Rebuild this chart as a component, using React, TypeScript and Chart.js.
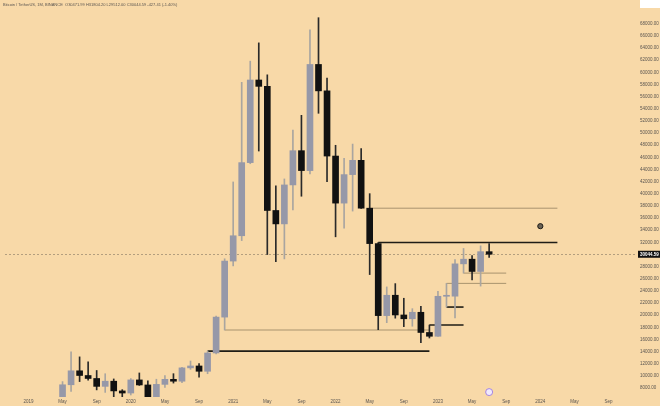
import React, { useEffect, useRef } from 'react';
import { Chart, registerables } from 'chart.js';

Chart.register(...registerables);

// ---- Data (BTC/USDT monthly candles) ----
const months = [
  '2019-05', '2019-06', '2019-07', '2019-08', '2019-09', '2019-10', '2019-11', '2019-12',
  '2020-01', '2020-02', '2020-03', '2020-04', '2020-05', '2020-06', '2020-07', '2020-08',
  '2020-09', '2020-10', '2020-11', '2020-12',
  '2021-01', '2021-02', '2021-03', '2021-04', '2021-05', '2021-06', '2021-07', '2021-08',
  '2021-09', '2021-10', '2021-11', '2021-12',
  '2022-01', '2022-02', '2022-03', '2022-04', '2022-05', '2022-06', '2022-07', '2022-08',
  '2022-09', '2022-10', '2022-11', '2022-12',
  '2023-01', '2023-02', '2023-03', '2023-04', '2023-05', '2023-06', '2023-07',
];
const opens = [
  5320.81, 8555.0, 10854.1, 10080.53, 9588.74, 8289.97, 9140.86, 7540.63,
  7195.24, 9351.71, 8523.61, 6412.14, 8620.0, 9448.27, 9138.08, 11335.46,
  11649.51, 10776.59, 13791.0, 19695.87,
  28923.63, 33092.97, 45134.11, 58739.46, 57697.25, 37253.82, 35045.0, 41461.84,
  47100.89, 43820.01, 61299.81, 56950.56,
  46216.93, 38466.9, 43160.0, 45510.35, 37631.83, 31801.05, 19942.21, 23296.36,
  20048.44, 19422.61, 20490.74, 17165.53,
  16541.77, 23125.13, 23141.57, 28465.36, 29233.2, 27210.36, 30471.99,
];
const highs = [
  9074.26, 13970.0, 13147.08, 12325.0, 10905.87, 10370.0, 9513.68, 7750.0,
  9578.0, 10500.0, 9188.0, 9467.35, 10067.0, 10380.0, 11444.0, 12468.0,
  12050.85, 14100.0, 19863.16, 29300.0,
  41950.0, 58352.8, 61844.0, 64854.0, 59592.2, 41330.0, 42448.0, 50500.0,
  52920.0, 67000.0, 69000.0, 59053.55,
  47990.0, 45821.0, 48189.84, 47444.11, 40023.77, 31982.97, 24668.0, 25211.32,
  22799.0, 21085.0, 21480.65, 18387.95,
  23960.54, 25250.0, 29184.68, 31000.0, 29820.0, 31431.94, 31804.2,
];
const lows = [
  5316.2, 7444.58, 9080.0, 9320.0, 7710.0, 7300.0, 6515.0, 6435.0,
  6871.04, 8445.0, 3782.13, 6150.11, 8117.0, 8833.0, 8893.03, 11091.0,
  9825.0, 10374.0, 13621.69, 17572.33,
  28130.0, 32296.16, 44950.53, 47044.01, 30000.0, 28805.0, 29278.0, 37332.7,
  39600.0, 43283.03, 53256.64, 42000.3,
  32917.17, 34322.28, 37155.0, 37578.2, 26700.0, 17622.0, 18781.0, 19520.0,
  18125.98, 18190.0, 15476.0, 16256.3,
  16499.01, 21351.07, 19549.09, 26942.82, 25811.46, 24800.0, 29512.0,
];
const closes = [
  8555.0, 10854.1, 10080.53, 9588.74, 8289.34, 9140.85, 7541.89, 7195.23,
  9352.89, 8523.61, 6410.44, 8620.0, 9448.27, 9138.55, 11335.46, 11649.51,
  10776.59, 13791.0, 19695.87, 28923.63,
  33092.98, 45135.66, 58740.55, 57694.27, 37253.81, 35045.0, 41461.83, 47100.89,
  43824.1, 61299.8, 56950.56, 46216.93,
  38466.9, 43160.0, 45510.34, 37630.8, 31801.04, 19942.21, 23293.32, 20050.02,
  19422.61, 20490.74, 17163.64, 16542.4,
  23125.13, 23141.57, 28465.36, 29233.21, 27210.35, 30472.0, 30044.59,
];

// ---- Axis ticks ----
const xTickMonths = [
  '2019-01', '2019-05', '2019-09', '2020-01', '2020-05', '2020-09',
  '2021-01', '2021-05', '2021-09', '2022-01', '2022-05', '2022-09',
  '2023-01', '2023-05', '2023-09', '2024-01', '2024-05', '2024-09',
];
const xTickLabels = [
  '2019', 'May', 'Sep', '2020', 'May', 'Sep',
  '2021', 'May', 'Sep', '2022', 'May', 'Sep',
  '2023', 'May', 'Sep', '2024', 'May', 'Sep',
];
const yTickValues = [
  8000, 10000, 12000, 14000, 16000, 18000, 20000, 22000, 24000, 26000, 28000,
  30000, 32000, 34000, 36000, 38000, 40000, 42000, 44000, 46000, 48000, 50000,
  52000, 54000, 56000, 58000, 60000, 62000, 64000, 66000, 68000,
];

// ---- Drawn horizontal levels ----
const keyLevelFrom = ['2020-10', '2022-06', '2022-12', '2023-02'];
const keyLevelTo = ['2022-12', '2024-03', '2023-04', '2023-04'];
const keyLevelPrice = [14100.0, 31982.97, 18387.95, 21351.07];

const minorLevelFrom = ['2020-12', '2022-05', '2023-02', '2023-04'];
const minorLevelTo = ['2022-12', '2024-03', '2023-09', '2023-09'];
const minorLevelPrice = [17572.33, 37630.8, 25250.0, 26942.82];

const noteMonths = ['2024-01'];
const notePrices = [34670];
const eventMonths = ['2023-07'];
const eventPrices = [7350];

const headerText =
  'Bitcoin / TetherUS, 1M, BINANCE  O30471.99 H31804.20 L29512.00 C30044.59 -427.41 (-1.40%)';

// visible ranges
const yMin = 6540;
const yMax = 71090;
const xMin = -2.744;
const xMax = 71.33;

// ---- styles ----
const BG = '#f8d9a8';
const UP = '#9698a8';
const DOWN = '#111111';
const UP_WICK = '#a9a5a0';
const DOWN_WICK = '#2a2a2a';
const TEXT = '#5a5550';
const FONT = '"Liberation Sans", Arial, sans-serif';

const monthIndex = (s: string) => {
  const [y, m] = s.split('-').map(Number);
  return (y - 2019) * 12 + (m - 1);
};

const decorPlugin = {
  id: 'decor',
  beforeDatasetsDraw(chart: any) {
    const { ctx, chartArea, scales } = chart;
    const last = closes[closes.length - 1];
    const y = Math.round(scales.y.getPixelForValue(last)) + 0.5;
    ctx.save();
    ctx.strokeStyle = '#b39e7e';
    ctx.lineWidth = 1;
    ctx.setLineDash([2, 2]);
    ctx.beginPath();
    ctx.moveTo(chartArea.left, y);
    ctx.lineTo(chartArea.right, y);
    ctx.stroke();
    ctx.restore();
  },
  afterDraw(chart: any) {
    const { ctx, chartArea, scales } = chart;
    ctx.save();
    // header
    ctx.font = `4px ${FONT}`;
    ctx.fillStyle = TEXT;
    ctx.textBaseline = 'middle';
    ctx.textAlign = 'left';
    ctx.fillText(headerText, 3, 5);
    // price label on axis
    const last = closes[closes.length - 1];
    const y = scales.y.getPixelForValue(last);
    ctx.fillStyle = '#111';
    ctx.fillRect(chartArea.right + 1, y - 3.5, 23, 7);
    ctx.fillStyle = '#ffffff';
    ctx.font = `bold 4.5px ${FONT}`;
    ctx.fillText(last.toFixed(2), chartArea.right + 3, y + 0.3);
    // white box at top of axis
    ctx.fillStyle = '#ffffff';
    ctx.fillRect(chartArea.right + 3, 0, 20, 8);
    ctx.restore();
  },
};

export default function App() {
  const canvasRef = useRef<HTMLCanvasElement | null>(null);

  useEffect(() => {
    document.body.style.margin = '0';
    document.body.style.background = BG;
    const canvas = canvasRef.current;
    if (!canvas) return;

    const xs = months.map(monthIndex);
    const isUp = opens.map((o, i) => closes[i] >= o);

    const levelSets: any[] = [];
    keyLevelPrice.forEach((p, i) => {
      levelSets.push({
        type: 'line',
        data: [
          { x: monthIndex(keyLevelFrom[i]), y: p },
          { x: monthIndex(keyLevelTo[i]), y: p },
        ],
        borderColor: '#1f1d16',
        borderWidth: 1.6,
        pointRadius: 0,
        order: 3,
      });
    });
    minorLevelPrice.forEach((p, i) => {
      levelSets.push({
        type: 'line',
        data: [
          { x: monthIndex(minorLevelFrom[i]), y: p },
          { x: monthIndex(minorLevelTo[i]), y: p },
        ],
        borderColor: '#a8936e',
        borderWidth: 1,
        pointRadius: 0,
        order: 3,
      });
    });

    const chart = new Chart(canvas, {
      type: 'bar',
      data: {
        datasets: [
          {
            type: 'bar',
            label: 'bodies',
            data: xs.map((x, i) => ({ x, y: [opens[i], closes[i]] })) as any,
            backgroundColor: isUp.map((u) => (u ? UP : DOWN)),
            barThickness: 6,
            minBarLength: 1,
            grouped: false,
            order: 0,
          } as any,
          {
            type: 'bar',
            label: 'wicks',
            data: xs.map((x, i) => ({ x, y: [lows[i], highs[i]] })) as any,
            backgroundColor: isUp.map((u) => (u ? UP_WICK : DOWN_WICK)),
            barThickness: 1,
            grouped: false,
            order: 1,
          } as any,
          ...levelSets,
          {
            type: 'line',
            label: 'note',
            data: noteMonths.map((m, i) => ({ x: monthIndex(m), y: notePrices[i] })),
            showLine: false,
            pointRadius: 2.6,
            pointBackgroundColor: '#6b6355',
            pointBorderColor: '#1e1b16',
            pointBorderWidth: 1,
            order: -1,
          } as any,
          {
            type: 'line',
            label: 'event',
            data: eventMonths.map((m, i) => ({ x: monthIndex(m), y: eventPrices[i] })),
            showLine: false,
            pointRadius: 3.5,
            pointBackgroundColor: '#f1eafc',
            pointBorderColor: '#a483e0',
            pointBorderWidth: 1,
            order: -1,
            clip: false,
          } as any,
        ],
      },
      options: {
        animation: false,
        responsive: false,
        layout: { padding: 0 },
        plugins: {
          legend: { display: false },
          tooltip: { enabled: false },
          title: { display: false },
        },
        scales: {
          x: {
            type: 'linear',
            min: xMin,
            max: xMax,
            offset: false,
            grid: { display: false, drawTicks: false, offset: false },
            border: { display: false },
            afterBuildTicks: (scale: any) => {
              scale.ticks = xTickMonths.map((m) => ({ value: monthIndex(m) }));
            },
            afterFit: (scale: any) => {
              scale.height = 9;
              scale.paddingLeft = 0;
              scale.paddingRight = 0;
            },
            ticks: {
              autoSkip: false,
              maxRotation: 0,
              padding: 2,
              color: TEXT,
              font: { size: 4.5, family: FONT },
              callback: (v: any) => {
                const i = xTickMonths.findIndex((m) => monthIndex(m) === v);
                return i >= 0 ? xTickLabels[i] : '';
              },
            },
          },
          y: {
            type: 'linear',
            position: 'right',
            min: yMin,
            max: yMax,
            grid: { display: false, drawTicks: false },
            border: { display: false },
            afterBuildTicks: (scale: any) => {
              scale.ticks = yTickValues.map((v) => ({ value: v }));
            },
            afterFit: (scale: any) => {
              scale.width = 23;
              scale.paddingTop = 0;
              scale.paddingBottom = 0;
            },
            ticks: {
              padding: 3,
              color: TEXT,
              font: { size: 4.5, family: FONT },
              callback: (v: any) => Number(v).toFixed(2),
            },
          },
        },
      },
      plugins: [decorPlugin],
    } as any);

    return () => chart.destroy();
  }, []);

  return (
    <div style={{ width: 660, height: 406, background: BG, position: 'relative' }}>
      <canvas ref={canvasRef} width={660} height={406} style={{ display: 'block' }} />
    </div>
  );
}
